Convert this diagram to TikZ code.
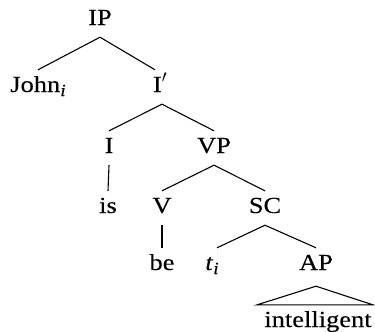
\documentclass[tikz,border=0pt]{standalone}
\usepackage{fontspec}
\setmainfont{Liberation Serif}[FakeStretch=1.15,FakeBold=0.2]
% italic index letter set low after a word
\newcommand\idx[1]{\raisebox{-4pt}{\fontsize{17}{17}\selectfont\itshape #1}}
\begin{document}
\begin{tikzpicture}[x=1pt,y=-1pt,
  lbl/.style={anchor=base, inner xsep=0pt, inner ysep=7pt,
    text height=15pt, text depth=5pt, font=\fontsize{23}{27}\selectfont},
  edge/.style={line width=1.1pt}]
\useasboundingbox (0,0) rectangle (375,332);
% labels of the tree
\node[lbl] (IP)    at (100,25)  {IP};
\node[lbl] (John)  at (38,92)   {John\idx{i}};
\node[lbl] (Ibar)  at (160,92)  {I$'$};
\node[lbl] (I)     at (109,153) {I};
\node[lbl] (VP)    at (214,153) {VP};
\node[lbl] (is)    at (108,213) {is};
\node[lbl] (V)     at (162,213) {V};
\node[lbl] (SC)    at (265,213) {SC};
\node[lbl] (be)    at (162,270) {be};
\node[lbl] (t)     at (212,270) {\textit{t}\idx{i}};
\node[lbl] (AP)    at (316,270) {AP};
\node[lbl] (intel) at (318,327) {intelligent};
% branches
\draw[edge] (IP.south) -- (John.north);
\draw[edge] (IP.south) -- ([xshift=-5pt]Ibar.north);
\draw[edge] ([xshift=2pt]Ibar.south) -- (I.north);
\draw[edge] ([xshift=2pt]Ibar.south) -- (VP.north);
\draw[edge] (I.south) -- (is.north);
\draw[edge] (VP.south) -- (V.north);
\draw[edge] (VP.south) -- (SC.north);
\draw[edge] (V.south) -- (be.north);
\draw[edge] (SC.south) -- ([xshift=5pt]t.north);
\draw[edge] (SC.south) -- (AP.north);
% roof over the unanalysed phrase
\draw[edge] ([yshift=-4pt]AP.south) -- ([xshift=-7pt]intel.north west)
  -- ([xshift=1pt]intel.north east) -- cycle;
\end{tikzpicture}
\end{document}
